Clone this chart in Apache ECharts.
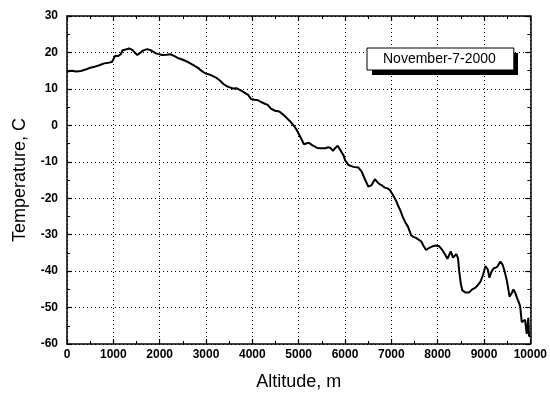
<!DOCTYPE html>
<html>
<head>
<meta charset="utf-8">
<script src="https://cdn.jsdelivr.net/npm/echarts@6/dist/echarts.min.js"></script>
<style>
  html, body { margin: 0; padding: 0; background: #fff; }
  #chart { width: 550px; height: 396px; }
</style>
</head>
<body>
<div id="chart"></div>
<script>
const seriesName = 'November-7-2000';
const altitude = [0,100,200,300,400,500,600,700,800,900,970,1040,1100,1160,1200,1270,1340,1410,1460,1517,1570,1624,1680,1731,1790,1838,1910,1966,2051,2150,2231,2320,2408,2500,2622,2700,2835,2900,2979,3085,3150,3227,3300,3370,3440,3513,3580,3654,3750,3830,3904,3974,4050,4120,4188,4260,4330,4402,4490,4581,4680,4759,4830,4902,4960,5009,5060,5115,5160,5222,5300,5400,5480,5577,5640,5684,5741,5790,5841,5900,5970,6004,6077,6180,6290,6361,6430,6504,6575,6645,6700,6752,6800,6859,6920,6966,7038,7100,7145,7200,7252,7310,7359,7429,7480,7536,7580,7643,7700,7750,7821,7890,7964,8035,8100,8141,8212,8283,8333,8404,8440,8461,8500,8533,8604,8675,8711,8746,8818,8870,8925,8980,9032,9080,9118,9160,9210,9282,9353,9400,9440,9495,9552,9600,9637,9675,9709,9750,9780,9816,9850,9887,9922,9957,9972,10000];
const temperature = [14.8,15.0,14.8,14.9,15.3,15.8,16.1,16.5,17.0,17.2,17.4,19.1,19.0,19.5,20.6,20.8,21.1,20.7,20.0,19.3,19.8,20.4,20.7,20.9,20.7,20.4,19.8,19.6,19.3,19.4,19.5,19.0,18.4,18.0,17.3,16.7,15.7,15.0,14.3,13.9,13.5,13.0,12.3,11.4,10.8,10.4,10.1,10.2,9.6,9.0,8.4,7.2,7.0,6.9,6.4,6.0,5.6,4.6,4.0,3.8,2.8,1.8,0.9,-0.2,-1.3,-2.5,-3.8,-5.2,-5.0,-4.8,-5.5,-6.2,-6.3,-6.3,-6.0,-6.2,-7.0,-6.2,-5.6,-6.8,-8.3,-9.6,-10.9,-11.4,-11.6,-12.7,-14.8,-16.8,-16.4,-14.8,-15.6,-16.2,-16.5,-17.1,-17.3,-17.7,-19.2,-20.6,-22.0,-23.5,-25.3,-26.8,-27.8,-30.2,-30.6,-30.9,-31.3,-31.8,-33.2,-34.2,-33.6,-33.2,-33.0,-33.2,-34.2,-35.0,-36.6,-34.6,-36.3,-35.3,-36.5,-39.5,-43.5,-45.3,-45.9,-45.9,-46.3,-45.0,-44.5,-43.8,-42.9,-41.0,-38.6,-39.5,-41.8,-40.2,-39.2,-38.9,-37.4,-38.2,-39.8,-42.7,-47.0,-46.0,-45.0,-46.0,-47.2,-48.5,-49.6,-54.0,-54.2,-53.4,-57.2,-52.8,-57.7,-58.0];

const xMin = 0, xMax = 10000, xStep = 1000;
const yMin = -60, yMax = 30, yStep = 10;

const chart = echarts.init(document.getElementById('chart'), null, { renderer: 'canvas' });

const tickFont = { fontFamily: 'Liberation Sans', fontWeight: 'bold', fontSize: 12, color: '#000', formatter: v => String(v) };
const lineBlack = { color: '#000', width: 1.5 };

const baseX = {
  type: 'value', min: xMin, max: xMax, interval: xStep,
  axisLine: { show: true, onZero: false, lineStyle: lineBlack },
  axisTick: { show: true, inside: true, length: 5, lineStyle: { color: '#000', width: 1.2 } },
  minorTick: { show: true, splitNumber: 2, length: 3, lineStyle: { color: '#000', width: 1 } }
};
const baseY = {
  type: 'value', min: yMin, max: yMax, interval: yStep,
  axisLine: { show: true, onZero: false, lineStyle: lineBlack },
  axisTick: { show: true, inside: true, length: 5, lineStyle: { color: '#000', width: 1.2 } },
  minorTick: { show: true, splitNumber: 2, length: 3, lineStyle: { color: '#000', width: 1 } }
};

chart.setOption({
  animation: false,
  backgroundColor: '#fff',
  grid: { left: 67, right: 15, top: 16, bottom: 49, containLabel: false },
  graphic: [{
    type: 'rect', z: 3,
    shape: { x: 372, y: 53, width: 146, height: 22 },
    style: { fill: '#000' }
  }],
  legend: {
    z: 10,
    data: [{ name: seriesName, icon: 'none' }],
    left: 367, top: 48,
    itemWidth: 0, itemHeight: 0, itemGap: 0,
    padding: [4, 18, 4, 11],
    backgroundColor: '#fff',
    borderColor: '#000', borderWidth: 1,
    textStyle: { fontFamily: 'Liberation Sans', fontSize: 14, color: '#000' },
    selectedMode: false
  },
  xAxis: [
    Object.assign({}, baseX, {
      position: 'bottom',
      name: 'Altitude, m', nameLocation: 'middle', nameGap: 29,
      nameTextStyle: { fontFamily: 'Liberation Sans', fontSize: 18, color: '#000' },
      axisLabel: Object.assign({ margin: 5 }, tickFont),
      splitLine: { show: true, lineStyle: { color: '#000', type: [1, 3], width: 1 } }
    }),
    Object.assign({}, baseX, {
      position: 'top',
      axisLabel: { show: false },
      splitLine: { show: false }
    })
  ],
  yAxis: [
    Object.assign({}, baseY, {
      position: 'left',
      name: 'Temperature, C', nameLocation: 'middle', nameGap: 38,
      nameTextStyle: { fontFamily: 'Liberation Sans', fontSize: 18, color: '#000' },
      axisLabel: Object.assign({ margin: 9 }, tickFont),
      splitLine: { show: true, lineStyle: { color: '#000', type: [1, 3], width: 1 } }
    }),
    Object.assign({}, baseY, {
      position: 'right',
      axisLabel: { show: false },
      splitLine: { show: false }
    })
  ],
  series: [{
    name: seriesName,
    type: 'line',
    xAxisIndex: 0, yAxisIndex: 0,
    data: altitude.map((a, i) => [a, temperature[i]]),
    showSymbol: false,
    symbol: 'none',
    lineStyle: { color: '#000', width: 2 },
    itemStyle: { color: '#000' }
  }]
});
</script>
</body>
</html>
